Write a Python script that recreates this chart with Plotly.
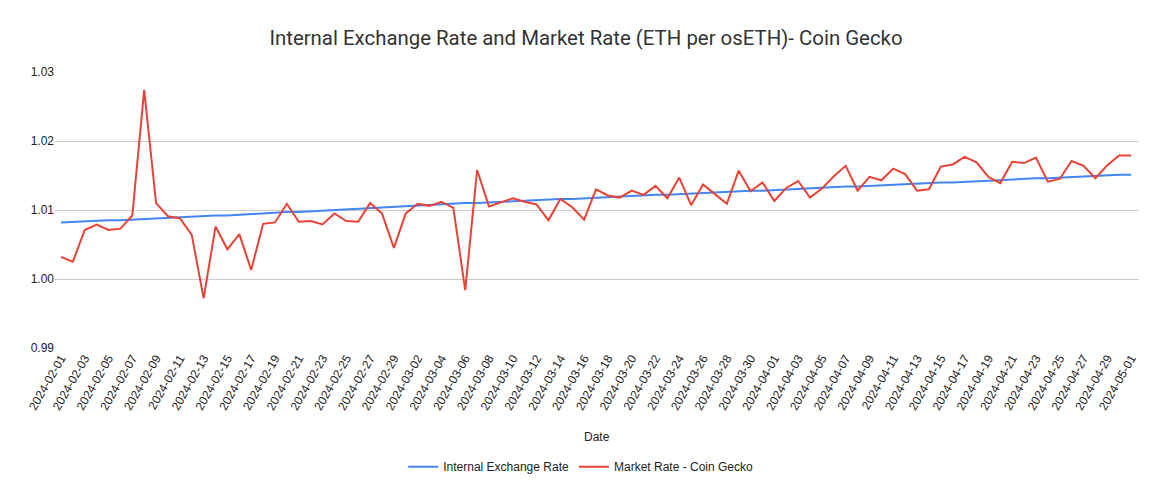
import plotly.graph_objects as go
import pandas as pd

dates = pd.date_range("2024-02-01", "2024-05-01", freq="D").strftime("%Y-%m-%d").tolist()

internal_rate = [
    1.0082, 1.0083, 1.0083, 1.0084, 1.0085, 1.0085, 1.0086, 1.0087, 1.0088, 1.0089,
    1.0089, 1.0090, 1.0091, 1.0092, 1.0092, 1.0093, 1.0095, 1.0095, 1.0096, 1.0097,
    1.0097, 1.0098, 1.0099, 1.0100, 1.0100, 1.0101, 1.0102, 1.0103, 1.0104, 1.0106,
    1.0107, 1.0107, 1.0108, 1.0109, 1.0110, 1.0110, 1.0111, 1.0112, 1.0113, 1.0113,
    1.0114, 1.0115, 1.0116, 1.0116, 1.0117, 1.0118, 1.0119, 1.0119, 1.0120, 1.0121,
    1.0122, 1.0122, 1.0123, 1.0124, 1.0125, 1.0125, 1.0126, 1.0127, 1.0128, 1.0128,
    1.0129, 1.0130, 1.0131, 1.0131, 1.0132, 1.0133, 1.0134, 1.0134, 1.0135, 1.0136,
    1.0137, 1.0137, 1.0138, 1.0139, 1.0140, 1.0140, 1.0141, 1.0142, 1.0143, 1.0143,
    1.0144, 1.0145, 1.0146, 1.0146, 1.0147, 1.0148, 1.0149, 1.0149, 1.0150, 1.0151,
    1.0151,
]

market_rate = [
    1.0032, 1.0025, 1.0071, 1.0079, 1.0071, 1.0073, 1.0092, 1.0274, 1.0110, 1.0091,
    1.0088, 1.0064, 0.9972, 1.0076, 1.0043, 1.0065, 1.0013, 1.0080, 1.0082, 1.0109,
    1.0083, 1.0084, 1.0079, 1.0095, 1.0084, 1.0083, 1.0110, 1.0095, 1.0045, 1.0095,
    1.0109, 1.0106, 1.0112, 1.0103, 0.9984, 1.0158, 1.0105, 1.0111, 1.0117, 1.0112,
    1.0108, 1.0085, 1.0116, 1.0104, 1.0086, 1.0130, 1.0121, 1.0118, 1.0128, 1.0122,
    1.0135, 1.0117, 1.0147, 1.0107, 1.0137, 1.0123, 1.0109, 1.0157, 1.0127, 1.0140,
    1.0113, 1.0132, 1.0142, 1.0118, 1.0131, 1.0149, 1.0164, 1.0128, 1.0148, 1.0143,
    1.0160, 1.0152, 1.0128, 1.0130, 1.0163, 1.0166, 1.0177, 1.0169, 1.0148, 1.0139,
    1.0170, 1.0168, 1.0176, 1.0141, 1.0145, 1.0171, 1.0164, 1.0146, 1.0165, 1.0179,
    1.0179,
]

tick_labels = dates[::2]

fig = go.Figure()
fig.add_trace(go.Scatter(x=dates, y=internal_rate, mode="lines",
                         name="Internal Exchange Rate",
                         line=dict(color="#4285F4", width=2)))
fig.add_trace(go.Scatter(x=dates, y=market_rate, mode="lines",
                         name="Market Rate - Coin Gecko",
                         line=dict(color="#EA4335", width=2)))

fig.update_layout(
    width=1156, height=492,
    margin=dict(l=47, r=25, t=64, b=152, autoexpand=False),
    paper_bgcolor="white", plot_bgcolor="white",
    title=dict(text="Internal Exchange Rate and Market Rate (ETH per osETH)- Coin Gecko",
               x=0.5, xanchor="center", y=0.939, yanchor="middle",
               font=dict(family="Roboto", size=20.4, color="#333333")),
    font=dict(family="Liberation Sans, Arial", size=12, color="#222222"),
    showlegend=True,
    legend=dict(orientation="h", x=0.485, xanchor="center", y=-0.43, yanchor="middle",
                font=dict(size=12, color="#222222")),
    annotations=[dict(text="Date", xref="paper", yref="paper", x=0.5, y=-0.322,
                      xanchor="center", yanchor="middle", showarrow=False,
                      font=dict(size=12, color="#222222"))],
)

fig.update_xaxes(type="date", range=["2024-01-31 12:00", "2024-05-01 16:00"],
                 tickmode="array", tickvals=tick_labels, ticktext=tick_labels,
                 tickangle=-60, showgrid=False, showline=False, zeroline=False,
                 automargin=False,
                 ticks="", tickfont=dict(size=12, color="#222222"))
fig.update_yaxes(range=[0.99, 1.03], dtick=0.01, tick0=0.99, tickformat=".2f",
                 showgrid=True, gridcolor="#cccccc", gridwidth=1, zeroline=False,
                 showline=False, automargin=False,
                 ticks="", tickfont=dict(size=12, color="#222222"))

fig.write_html("out.html")
